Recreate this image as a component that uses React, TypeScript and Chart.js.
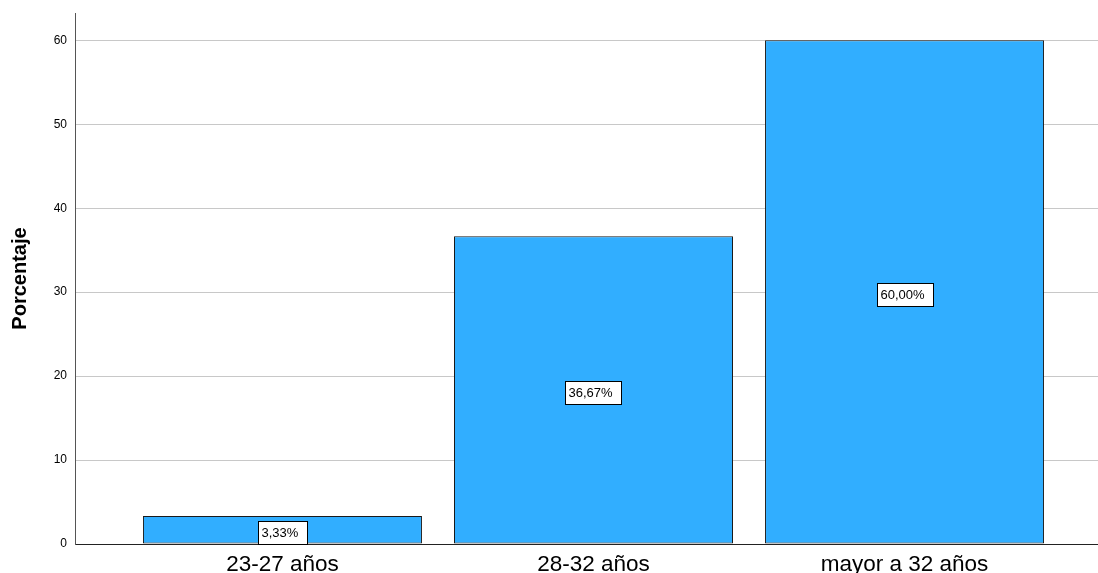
import React, { useEffect, useRef } from "react";
import { Chart, registerables } from "chart.js";

Chart.register(...registerables);

const categories = ["23-27 años", "28-32 años", "mayor a 32 años"];
const percentages = [3.33, 36.67, 60.0];
const valueLabels = ["3,33%", "36,67%", "60,00%"];
const yTicks = [0, 10, 20, 30, 40, 50, 60];

const FONT = "Arial, 'Liberation Sans', sans-serif";

const labelPlugin = {
  id: "boxLabels",
  afterDatasetsDraw(chart: any) {
    const ctx = chart.ctx;
    const meta = chart.getDatasetMeta(0);
    const yScale = chart.scales.y;
    ctx.save();
    ctx.font = `13px ${FONT}`;
    ctx.textBaseline = "middle";
    ctx.textAlign = "left";
    meta.data.forEach((bar: any, i: number) => {
      const text = valueLabels[i];
      const tw = ctx.measureText(text).width;
      const w = Math.round(tw + 12);
      const h = 23;
      const cx = bar.x;
      const cy = yScale.getPixelForValue(percentages[i] / 2) + 2;
      const left = Math.round(cx - w / 2) + 0.5;
      const top = Math.round(cy - h / 2) + 0.5;
      ctx.fillStyle = "#ffffff";
      ctx.fillRect(left, top, w, h);
      ctx.strokeStyle = "#000000";
      ctx.lineWidth = 1;
      ctx.strokeRect(left, top, w, h);
      ctx.fillStyle = "#000000";
      ctx.fillText(text, left + 3, top + h / 2);
    });
    // y axis title
    const area = chart.chartArea;
    ctx.translate(20, (area.top + area.bottom) / 2);
    ctx.rotate(-Math.PI / 2);
    ctx.font = `bold 20px ${FONT}`;
    ctx.textAlign = "center";
    ctx.fillText("Porcentaje", 0, 0);
    ctx.restore();
  },
};

export default function App() {
  const ref = useRef<HTMLCanvasElement | null>(null);
  useEffect(() => {
    if (!ref.current) return;
    const chart = new Chart(ref.current, {
      type: "bar",
      data: {
        datasets: [
          {
            data: percentages.map((v, i) => ({ x: i, y: v })),
            backgroundColor: "#31AEFF",
            borderColor: "#1a1a1a",
            borderWidth: 1,
            borderSkipped: false,
            barPercentage: 0.897,
            categoryPercentage: 1,
          },
        ],
      },
      options: {
        animation: false,
        responsive: false,
        maintainAspectRatio: false,
        layout: { padding: { top: 13, right: 0, left: 0, bottom: 0 } },
        plugins: { legend: { display: false }, tooltip: { enabled: false } },
        scales: {
          x: {
            type: "linear",
            offset: false,
            min: -0.667,
            max: 2.622,
            afterBuildTicks: (scale: any) => {
              scale.ticks = categories.map((_, i) => ({ value: i }));
            },
            afterFit: (scale: any) => {
              scale.height = 29;
              scale.paddingLeft = 0;
              scale.paddingRight = 0;
            },
            grid: { display: false, drawTicks: false },
            border: { display: true, color: "#222222", width: 1 },
            ticks: {
              padding: 7,
              color: "#000000",
              font: { family: FONT, size: 22.5 },
              maxRotation: 0,
              autoSkip: false,
              callback: (v: any) => categories[v] ?? "",
            },
          },
          y: {
            min: 0,
            max: 63.25,
            afterBuildTicks: (scale: any) => {
              scale.ticks = yTicks.map((v) => ({ value: v }));
            },
            afterFit: (scale: any) => {
              scale.width = 75;
              scale.paddingTop = 0;
              scale.paddingBottom = 0;
            },
            grid: { color: "#c8c8c8", drawTicks: false, lineWidth: 1 },
            border: { display: true, color: "#555555", width: 1 },
            ticks: {
              padding: 8,
              color: "#000000",
              font: { family: FONT, size: 12 },
            },
          },
        },
      },
      plugins: [labelPlugin],
    } as any);
    return () => chart.destroy();
  }, []);
  return (
    <div style={{ position: "fixed", left: 0, top: 0, width: 1098, height: 573, background: "#fff" }}>
      <canvas ref={ref} width={1098} height={573} style={{ display: "block" }} />
    </div>
  );
}
